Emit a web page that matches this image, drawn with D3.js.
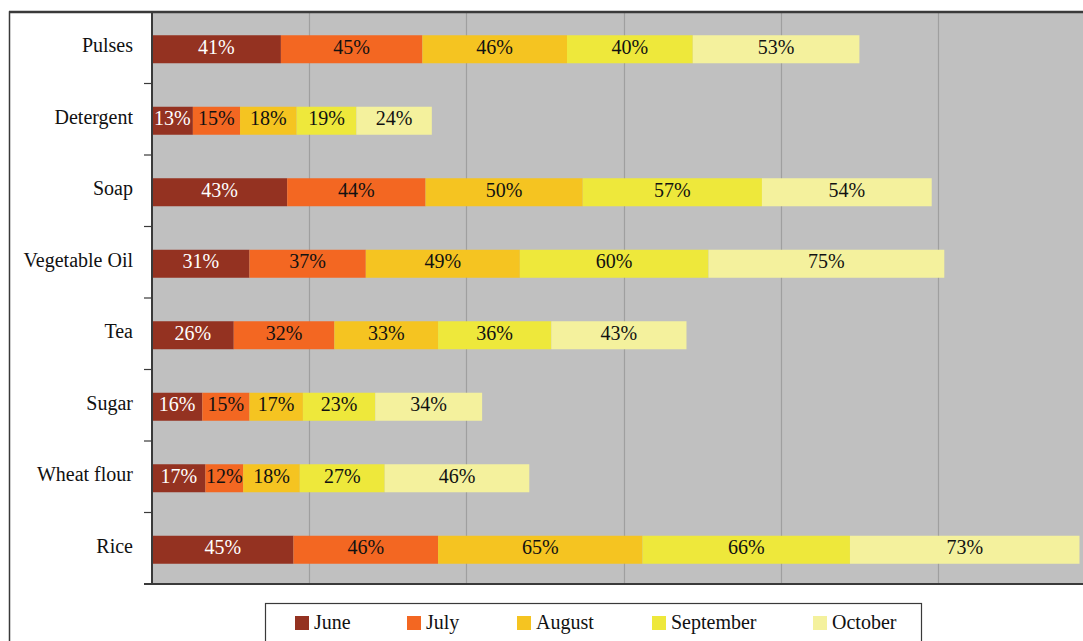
<!DOCTYPE html>
<html>
<head>
<meta charset="utf-8">
<script src="https://cdn.jsdelivr.net/npm/d3@7"></script>
<style>
  html, body { margin: 0; padding: 0; background: #fff; }
  svg { display: block; font-family: "Liberation Serif", "Times New Roman", serif; }
</style>
</head>
<body>
<svg id="chart" width="1083" height="641"></svg>
<script>
// Commodities, top to bottom
const categories = ["Pulses", "Detergent", "Soap", "Vegetable Oil", "Tea", "Sugar", "Wheat flour", "Rice"];
// Monthly series (percent)
const months = ["June", "July", "August", "September", "October"];
const june      = [41, 13, 43, 31, 26, 16, 17, 45];
const july      = [45, 15, 44, 37, 32, 15, 12, 46];
const august    = [46, 18, 50, 49, 33, 17, 18, 65];
const september = [40, 19, 57, 60, 36, 23, 27, 66];
const october   = [53, 24, 54, 75, 43, 34, 46, 73];
const seriesValues = [june, july, august, september, october];
const colors = ["#943221", "#F36722", "#F5C421", "#EEE83B", "#F4F19D"];
const labelColors = ["#ffffff", "#111", "#111", "#111", "#111"];
const gridTicks = [50, 100, 150, 200, 250];

const svg = d3.select("#chart");
const W = 1083, H = 641;
const plot = { left: 152, top: 12, bottom: 584 };

// Table rows: one object per commodity with its monthly values
const rows = categories.map((c, i) => {
  const r = { category: c };
  months.forEach((m, j) => { r[m] = seriesValues[j][i]; });
  return r;
});
const stacked = d3.stack().keys(months)(rows);

const x = d3.scaleLinear().domain([0, 300]).range([plot.left, plot.left + 943.2]);
const y = d3.scaleBand().domain(categories).range([plot.top, plot.bottom]).padding(0);
const barH = 28;
const barOffset = (y.bandwidth() - barH) / 2 + 1.5;

// Outer chart frame
svg.append("rect")
  .attr("x", 9.5).attr("y", 12).attr("width", W + 20).attr("height", H + 20)
  .attr("fill", "#fff").attr("stroke", "#3a3a3a").attr("stroke-width", 1.5);

// Plot area background
svg.append("rect")
  .attr("x", plot.left).attr("y", plot.top)
  .attr("width", W - plot.left + 20).attr("height", plot.bottom - plot.top)
  .attr("fill", "#C0C0C0");

// Vertical gridlines
svg.append("g").selectAll("line").data(gridTicks).join("line")
  .attr("x1", d => Math.round(x(d)) + 0.5).attr("x2", d => Math.round(x(d)) + 0.5)
  .attr("y1", plot.top).attr("y2", plot.bottom)
  .attr("stroke", "#9f9f9f").attr("stroke-width", 1.2);

// Stacked bars
const layers = svg.append("g").selectAll("g").data(stacked).join("g")
  .attr("fill", (d, i) => colors[i]);
layers.selectAll("rect").data(d => d).join("rect")
  .attr("x", d => x(d[0]))
  .attr("y", d => y(d.data.category) + barOffset)
  .attr("width", d => x(d[1]) - x(d[0]))
  .attr("height", barH);

// Value labels centred in each segment
const labelLayers = svg.append("g").selectAll("g").data(stacked).join("g")
  .attr("fill", (d, i) => labelColors[i]);
labelLayers.selectAll("text").data(d => d).join("text")
  .attr("x", d => (x(d[0]) + x(d[1])) / 2)
  .attr("y", d => y(d.data.category) + barOffset + barH / 2 + 4.5)
  .attr("text-anchor", "middle")
  .attr("font-size", 20)
  .text(d => (d[1] - d[0]) + "%");

// Category axis
const yAxis = svg.append("g").attr("transform", `translate(${plot.left},0)`);
yAxis.append("line")
  .attr("x1", 0).attr("x2", 0).attr("y1", plot.top).attr("y2", plot.bottom)
  .attr("stroke", "#3a3a3a").attr("stroke-width", 2);
const boundaries = categories.map(c => y(c) + y.bandwidth());
yAxis.selectAll(".tick").data(boundaries).join("line")
  .attr("x1", -8).attr("x2", 0)
  .attr("y1", d => d).attr("y2", d => d)
  .attr("stroke", "#3a3a3a").attr("stroke-width", 1.2);
yAxis.selectAll("text").data(categories).join("text")
  .attr("x", -19)
  .attr("y", d => y(d) + y.bandwidth() / 2 + 4.5)
  .attr("text-anchor", "end")
  .attr("font-size", 20)
  .attr("fill", "#111")
  .text(d => d);

// Bottom axis line
svg.append("line")
  .attr("x1", plot.left - 8).attr("x2", W + 10)
  .attr("y1", plot.bottom).attr("y2", plot.bottom)
  .attr("stroke", "#3a3a3a").attr("stroke-width", 2);

// Top border of plot
svg.append("line")
  .attr("x1", 9).attr("x2", W + 10)
  .attr("y1", plot.top).attr("y2", plot.top)
  .attr("stroke", "#3a3a3a").attr("stroke-width", 2.5);

// Legend
const legend = svg.append("g");
legend.append("rect")
  .attr("x", 265.5).attr("y", 603.5).attr("width", 656).attr("height", 60)
  .attr("fill", "#fff").attr("stroke", "#3a3a3a").attr("stroke-width", 1.2);
const legendX = [295, 407, 517, 652, 813];
const items = legend.selectAll("g.item").data(months).join("g")
  .attr("class", "item")
  .attr("transform", (d, i) => `translate(${legendX[i]},0)`);
items.append("rect")
  .attr("x", 0).attr("y", 616).attr("width", 14).attr("height", 14)
  .attr("fill", (d, i) => colors[i]);
items.append("text")
  .attr("x", 19).attr("y", 628.5)
  .attr("font-size", 20)
  .attr("fill", "#111")
  .text(d => d);
</script>
</body>
</html>
